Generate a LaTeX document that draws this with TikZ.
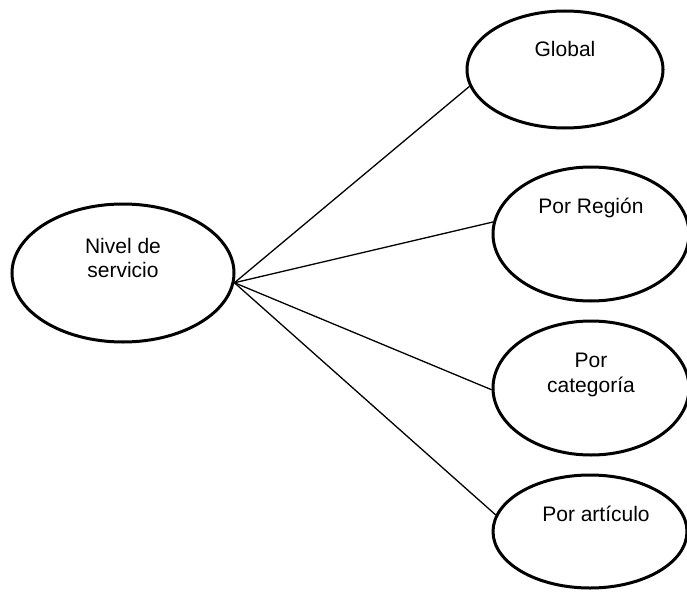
\documentclass[tikz,border=0pt]{standalone}
\usepackage{fontspec}
\setmainfont{Liberation Sans}
\usetikzlibrary{shapes.geometric}
\begin{document}
\begin{tikzpicture}[x=1pt,y=-1pt,
  oval/.style={draw=black,line width=3pt,ellipse,inner sep=0pt,fill=none},
  lbl/.style={inner sep=0pt,align=center,font=\fontsize{21}{24.5}\selectfont,anchor=base},
  lbltwo/.style={inner sep=0pt,align=center,font=\fontsize{21}{24.5}\selectfont,anchor=north},
  conn/.style={draw=black,line width=1.3pt}]
\useasboundingbox (0,0) rectangle (687,591);
% ellipses
\node[oval,minimum width=222pt,minimum height=138pt] (N) at (123,273) {};
\node[oval,minimum width=196pt,minimum height=117pt] (G) at (565,69.5) {};
\node[oval,minimum width=196pt,minimum height=134pt] (R) at (591,234) {};
\node[oval,minimum width=196pt,minimum height=134pt] (C) at (591,388) {};
\node[oval,minimum width=194pt,minimum height=113pt] (A) at (590,531.5) {};
% texts
\node[lbltwo] (Nt) at (123,237.6) {Nivel de\\servicio};
\node[lbl] (Gt) at (565,57) {Global};
\node[lbl] (Rt) at (591,213) {Por Región};
\node[lbltwo] (Ct) at (591,352.9) {Por\\categoría};
\node[lbl] (At) at (596,521) {Por artículo};
% connectors
\coordinate (hub) at (N.-5);
\draw[conn] (hub) -- (G.190.8);
\draw[conn] (hub) -- (R.173.6);
\draw[conn] (hub) -- (C.181.2);
\draw[conn] (hub) -- (A.170.1);
\end{tikzpicture}
\end{document}
